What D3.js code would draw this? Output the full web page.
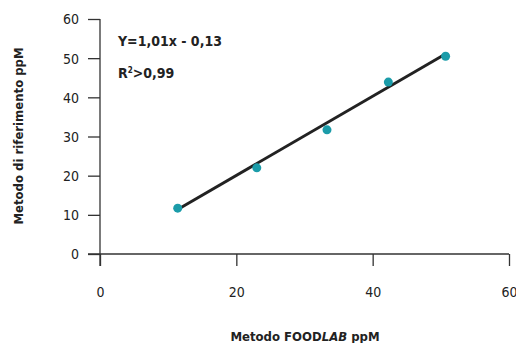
<!DOCTYPE html>
<html>
<head>
<meta charset="utf-8">
<script src="https://cdn.jsdelivr.net/npm/d3@7"></script>
<style>
  body { margin: 0; background: #fff; }
  text { font-family: "DejaVu Sans Condensed", "DejaVu Sans", sans-serif; font-stretch: condensed; }
</style>
</head>
<body>
<div id="chart"></div>
<script>
// Metodo FOODLAB vs metodo di riferimento (ppM)
const foodlab = [11.4, 23.0, 33.3, 42.3, 50.7];
const riferimento = [11.7, 22.0, 31.7, 43.9, 50.5];
const xTicks = [0, 20, 40, 60];
const yTicks = [0, 10, 20, 30, 40, 50, 60];
const slope = 1.01, intercept = -0.13;
const fitRange = [11.2, 50.3];

const W = 516, H = 343;
const svg = d3.select('#chart').append('svg')
    .attr('width', W).attr('height', H);

const x = d3.scaleLinear().domain([0, 60]).range([100, 509]);
const y = d3.scaleLinear().domain([0, 60]).range([254, 19]);

// y axis
const yAxis = svg.append('g')
    .attr('transform', 'translate(100,0)')
    .call(d3.axisLeft(y).tickValues(yTicks).tickSize(12).tickPadding(9));
yAxis.select('.domain').attr('d', 'M0,19V266');
yAxis.selectAll('line').attr('stroke', '#333').attr('stroke-width', 1.3);
yAxis.select('.domain').attr('stroke', '#333').attr('stroke-width', 1.3);
yAxis.selectAll('text')
    .style('font-size', '14px').style('fill', '#222').attr('dy', '0.35em');

// x axis
const xAxis = svg.append('g')
    .attr('transform', 'translate(0,254)')
    .call(d3.axisBottom(x).tickValues(xTicks).tickSize(12).tickPadding(21));
xAxis.select('.domain').attr('d', 'M88,0H509');
xAxis.selectAll('line').attr('stroke', '#333').attr('stroke-width', 1.3);
xAxis.select('.domain').attr('stroke', '#333').attr('stroke-width', 1.3);
xAxis.selectAll('text')
    .style('font-size', '14px').style('fill', '#222');

// regression line
svg.append('line')
    .attr('x1', x(fitRange[0])).attr('y1', y(slope * fitRange[0] + intercept))
    .attr('x2', x(fitRange[1])).attr('y2', y(slope * fitRange[1] + intercept))
    .attr('stroke', '#222').attr('stroke-width', 3);

// points
svg.selectAll('.pt')
    .data(foodlab)
    .enter()
    .append('circle')
    .attr('class', 'pt')
    .attr('cx', d => x(d))
    .attr('cy', (d, i) => y(riferimento[i]))
    .attr('r', 4.5)
    .attr('fill', '#1b9ca9');

// equation
svg.append('text')
    .attr('x', 118).attr('y', 46)
    .style('font-size', '14px').style('font-weight', 'bold').style('fill', '#222')
    .text('Y=1,01x - 0,13');
const r2 = svg.append('text')
    .attr('x', 118).attr('y', 78)
    .style('font-size', '14px').style('font-weight', 'bold').style('fill', '#222');
r2.append('tspan').text('R');
r2.append('tspan').attr('dy', -5).style('font-size', '8px').text('2');
r2.append('tspan').attr('dy', 5).text('>0,99');

// axis titles
svg.append('text')
    .attr('transform', 'translate(23,136) rotate(-90)')
    .attr('text-anchor', 'middle')
    .style('font-size', '13px').style('font-weight', 'bold').style('fill', '#222')
    .text('Metodo di riferimento ppM');

const xt = svg.append('text')
    .attr('x', 305).attr('y', 341)
    .attr('text-anchor', 'middle')
    .style('font-size', '13px').style('font-weight', 'bold').style('fill', '#222');
xt.append('tspan').text('Metodo FOOD');
xt.append('tspan').style('font-style', 'italic').text('LAB');
xt.append('tspan').text(' ppM');
</script>
</body>
</html>
